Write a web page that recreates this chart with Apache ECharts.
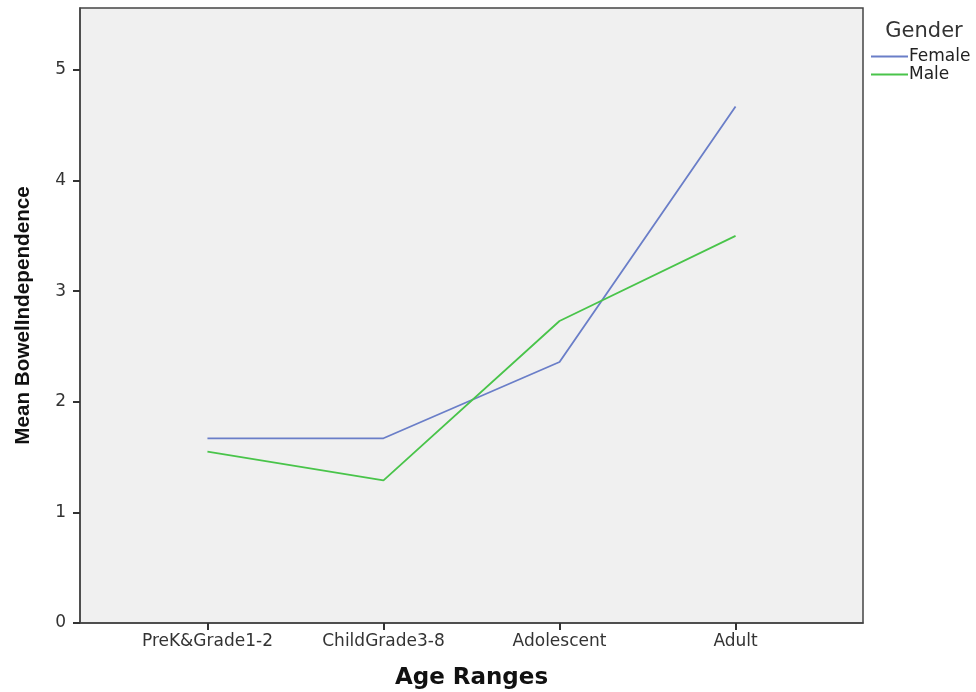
<!DOCTYPE html>
<html><head><meta charset="utf-8">
<script src="https://cdn.jsdelivr.net/npm/echarts@6/dist/echarts.min.js"></script>
<style>html,body{margin:0;padding:0;background:#fff}#c{width:976px;height:692px}</style>
</head><body><div id="c"></div>
<script>
const categories = ['PreK&Grade1-2', 'ChildGrade3-8', 'Adolescent', 'Adult'];
const female = [1.67, 1.67, 2.36, 4.67];
const male = [1.55, 1.29, 2.73, 3.50];
const yTicks = [0, 1, 2, 3, 4, 5];

const chart = echarts.init(document.getElementById('c'));
const pts = arr => arr.map((v, i) => [i, v]);
chart.setOption({
  animation: false,
  backgroundColor: '#ffffff',
  title: {
    text: 'Gender', left: 919, top: 16, textAlign: 'center',
    textStyle: { fontFamily: 'DejaVu Sans', fontSize: 21, fontWeight: 'normal', color: '#333' }
  },
  legend: {
    orient: 'vertical', left: 866, top: 43, itemWidth: 37, itemHeight: 10, itemGap: 1,
    icon: 'path://M0,4 L37,4 L37,6 L0,6 Z',
    textStyle: { fontFamily: 'DejaVu Sans', fontSize: 17, color: '#222', padding: [0, 0, 0, -4] },
    data: ['Female', 'Male']
  },
  grid: {
    left: 80, top: 8, right: 113, bottom: 69, outerBoundsMode: 'none', containLabel: false,
    show: true, backgroundColor: '#f0f0f0', borderColor: '#444', borderWidth: 1.5
  },
  xAxis: {
    type: 'value', min: -0.724, max: 3.724,
    name: 'Age Ranges', nameLocation: 'middle', nameGap: 44,
    nameTextStyle: { fontFamily: 'DejaVu Sans', fontWeight: 'bold', fontSize: 23, color: '#111' },
    axisLine: { show: true, onZero: false, lineStyle: { color: '#444', width: 1.5 } },
    axisTick: { show: true, inside: false, length: 7, customValues: [0, 1, 2, 3], lineStyle: { color: '#333', width: 2 } },
    axisLabel: {
      customValues: [0, 1, 2, 3], margin: 10,
      formatter: v => categories[Math.round(v)],
      fontFamily: 'DejaVu Sans', fontSize: 17, color: '#333'
    },
    splitLine: { show: false }
  },
  yAxis: {
    type: 'value', min: 0, max: 5.56,
    name: 'Mean BowelIndependence', nameLocation: 'middle', nameGap: 46, nameRotate: 90,
    nameTextStyle: { fontFamily: 'Liberation Sans', fontWeight: 'bold', fontSize: 20.7, color: '#111' },
    axisLine: { show: true, onZero: false, lineStyle: { color: '#444', width: 1.5 } },
    axisTick: { show: true, inside: false, length: 7, customValues: yTicks, lineStyle: { color: '#333', width: 2 } },
    axisLabel: { customValues: yTicks, margin: 14, fontFamily: 'DejaVu Sans', fontSize: 17, color: '#333' },
    splitLine: { show: false }
  },
  series: [
    { name: 'Female', type: 'line', data: pts(female), symbol: 'none',
      lineStyle: { color: '#6a7ec8', width: 1.8 }, itemStyle: { color: '#6a7ec8' } },
    { name: 'Male', type: 'line', data: pts(male), symbol: 'none',
      lineStyle: { color: '#49c44a', width: 1.8 }, itemStyle: { color: '#49c44a' } }
  ]
});
</script></body></html>
